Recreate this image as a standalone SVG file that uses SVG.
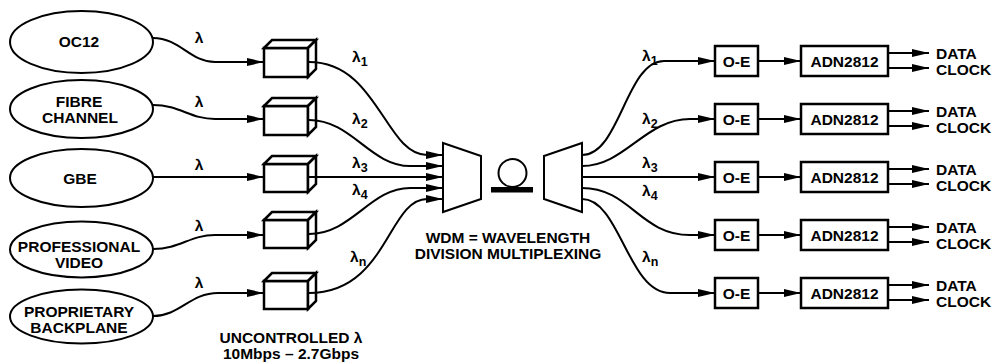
<svg xmlns="http://www.w3.org/2000/svg" width="993" height="364" viewBox="0 0 993 364">
<defs>
<marker id="arr" viewBox="0 0 17 8" refX="17" refY="4" markerWidth="17" markerHeight="8" markerUnits="userSpaceOnUse" orient="auto">
<path d="M0,0 L17,4 L0,8 z" fill="#000"/>
</marker>
</defs>
<style>
text{font-family:"Liberation Sans",Arial,Helvetica,sans-serif;font-weight:bold;font-size:15.5px;fill:#000}
.lbl{text-anchor:middle}
.sub{font-size:12.5px}
.el{fill:#fff;stroke:#000;stroke-width:2}
.cube{fill:#fff;stroke:#000;stroke-width:2.5;stroke-linejoin:miter}
.box{fill:#fff;stroke:#000;stroke-width:2.5}
.mux{fill:#fff;stroke:#000;stroke-width:2}
.c{fill:none;stroke:#000;stroke-width:2}
.a{marker-end:url(#arr)}
</style>
<rect width="993" height="364" fill="#fff"/>

<g id="src-oc12"><ellipse class="el" cx="81.5" cy="42" rx="71.5" ry="31"/><text class="lbl" x="79" y="47">OC12</text></g>
<g id="src-fibre"><ellipse class="el" cx="81.5" cy="109" rx="71.5" ry="29"/><text class="lbl" x="79" y="107">FIBRE</text><text class="lbl" x="80" y="123">CHANNEL</text></g>
<g id="src-gbe"><ellipse class="el" cx="81.5" cy="178" rx="71.5" ry="29"/><text class="lbl" x="80" y="184">GBE</text></g>
<g id="src-video"><ellipse class="el" cx="81.5" cy="249.5" rx="71.5" ry="28"/><text class="lbl" x="79" y="252">PROFESSIONAL</text><text class="lbl" x="79" y="268">VIDEO</text></g>
<g id="src-backplane"><ellipse class="el" cx="81.5" cy="316.5" rx="71.5" ry="27"/><text class="lbl" x="79" y="317">PROPRIETARY</text><text class="lbl" x="79" y="333">BACKPLANE</text></g>

<g id="laser1"><rect class="cube" x="264" y="48" width="44" height="29"/><polygon class="cube" points="264,48 272,40 316,40 308,48"/><polygon class="cube" points="308,48 316,40 316,69 308,77"/></g>
<g id="laser2"><rect class="cube" x="264" y="106" width="44" height="29"/><polygon class="cube" points="264,106 272,98 316,98 308,106"/><polygon class="cube" points="308,106 316,98 316,127 308,135"/></g>
<g id="laser3"><rect class="cube" x="264" y="164" width="44" height="28"/><polygon class="cube" points="264,164 272,156 316,156 308,164"/><polygon class="cube" points="308,164 316,156 316,184 308,192"/></g>
<g id="laser4"><rect class="cube" x="264" y="220" width="44" height="28"/><polygon class="cube" points="264,220 272,212 316,212 308,220"/><polygon class="cube" points="308,220 316,212 316,240 308,248"/></g>
<g id="laser5"><rect class="cube" x="264" y="281" width="44" height="28"/><polygon class="cube" points="264,281 272,273 316,273 308,281"/><polygon class="cube" points="308,281 316,273 316,301 308,309"/></g>

<g id="mux"><polygon class="mux" points="443,143 481,156 481,199 443,212"/></g>
<g id="fiber"><circle cx="512.5" cy="173" r="14" fill="none" stroke="#000" stroke-width="2"/><rect x="491" y="187" width="42" height="5.5" fill="#000"/></g>
<g id="demux"><polygon class="mux" points="544,156 582,143 582,212 544,199"/></g>

<g id="oe1"><rect class="box" x="715" y="46" width="43" height="30"/><text class="lbl" x="736.5" y="67">O-E</text></g>
<g id="oe2"><rect class="box" x="715" y="104" width="43" height="30"/><text class="lbl" x="736.5" y="125">O-E</text></g>
<g id="oe3"><rect class="box" x="715" y="162" width="43" height="30"/><text class="lbl" x="736.5" y="183">O-E</text></g>
<g id="oe4"><rect class="box" x="715" y="220" width="43" height="30"/><text class="lbl" x="736.5" y="241">O-E</text></g>
<g id="oe5"><rect class="box" x="715" y="278" width="43" height="30"/><text class="lbl" x="736.5" y="299">O-E</text></g>

<g id="adn1"><rect class="box" x="801" y="46" width="87" height="30"/><text class="lbl" x="844.5" y="67">ADN2812</text></g>
<g id="adn2"><rect class="box" x="801" y="104" width="87" height="30"/><text class="lbl" x="844.5" y="125">ADN2812</text></g>
<g id="adn3"><rect class="box" x="801" y="162" width="87" height="30"/><text class="lbl" x="844.5" y="183">ADN2812</text></g>
<g id="adn4"><rect class="box" x="801" y="220" width="87" height="30"/><text class="lbl" x="844.5" y="241">ADN2812</text></g>
<g id="adn5"><rect class="box" x="801" y="278" width="87" height="30"/><text class="lbl" x="844.5" y="299">ADN2812</text></g>

<g id="connectors">
<path class="c a" d="M153,38 C180,38 190,62 215,62 L264,62"/>
<path class="c a" d="M153,105 C180,105 190,119 215,119 L264,119"/>
<path class="c a" d="M153,177 L264,177"/>
<path class="c a" d="M153,249 C180,249 190,235 215,235 L264,235"/>
<path class="c a" d="M153,316 C180,316 190,293 218,293 L264,293"/>

<path class="c a" d="M309,62 C378,62 385,155 427,155 L443,155"/>
<path class="c a" d="M309,120 C352,120 370,166 410,166 L443,166"/>
<path class="c a" d="M309,177 L443,177"/>
<path class="c a" d="M309,234 C352,234 370,188 410,188 L443,188"/>
<path class="c a" d="M309,293 C387,293 388,199 427,199 L443,199"/>

<path class="c a" d="M582,155 C620,155 626,61 664,61 L715,61"/>
<path class="c a" d="M582,166 C625,166 645,119 690,119 L715,119"/>
<path class="c a" d="M582,177 L715,177"/>
<path class="c a" d="M582,188 C630,188 640,235 690,235 L715,235"/>
<path class="c a" d="M582,199 C620,199 628,293 670,293 L715,293"/>

<path class="c a" d="M758,61 L801,61"/>
<path class="c a" d="M758,119 L801,119"/>
<path class="c a" d="M758,177 L801,177"/>
<path class="c a" d="M758,235 L801,235"/>
<path class="c a" d="M758,293 L801,293"/>

<path class="c a" d="M888,53 L929,53"/><path class="c a" d="M888,68 L929,68"/>
<path class="c a" d="M888,111 L929,111"/><path class="c a" d="M888,126 L929,126"/>
<path class="c a" d="M888,169 L929,169"/><path class="c a" d="M888,184 L929,184"/>
<path class="c a" d="M888,227 L929,227"/><path class="c a" d="M888,242 L929,242"/>
<path class="c a" d="M888,285 L929,285"/><path class="c a" d="M888,300 L929,300"/>
</g>

<g id="labels">
<text class="lbl" x="199" y="43">λ</text>
<text class="lbl" x="199" y="107">λ</text>
<text class="lbl" x="199" y="170">λ</text>
<text class="lbl" x="199" y="231">λ</text>
<text class="lbl" x="199" y="288">λ</text>

<text x="352" y="62">λ<tspan class="sub" dy="4">1</tspan></text>
<text x="352" y="124">λ<tspan class="sub" dy="4">2</tspan></text>
<text x="352" y="168">λ<tspan class="sub" dy="4">3</tspan></text>
<text x="352" y="195">λ<tspan class="sub" dy="4">4</tspan></text>
<text x="350" y="262">λ<tspan class="sub" dy="4">n</tspan></text>

<text x="642" y="61">λ<tspan class="sub" dy="4">1</tspan></text>
<text x="642" y="124">λ<tspan class="sub" dy="4">2</tspan></text>
<text x="642" y="168">λ<tspan class="sub" dy="4">3</tspan></text>
<text x="642" y="196">λ<tspan class="sub" dy="4">4</tspan></text>
<text x="642" y="262">λ<tspan class="sub" dy="4">n</tspan></text>

<text x="936" y="59">DATA</text><text x="936" y="75">CLOCK</text>
<text x="936" y="117">DATA</text><text x="936" y="133">CLOCK</text>
<text x="936" y="175">DATA</text><text x="936" y="191">CLOCK</text>
<text x="936" y="233">DATA</text><text x="936" y="249">CLOCK</text>
<text x="936" y="291">DATA</text><text x="936" y="307">CLOCK</text>

<text class="lbl" x="508" y="243">WDM = WAVELENGTH</text>
<text class="lbl" x="508" y="259">DIVISION MULTIPLEXING</text>
<text class="lbl" x="291" y="343">UNCONTROLLED λ</text>
<text class="lbl" x="291" y="359">10Mbps – 2.7Gbps</text>
</g>
</svg>
